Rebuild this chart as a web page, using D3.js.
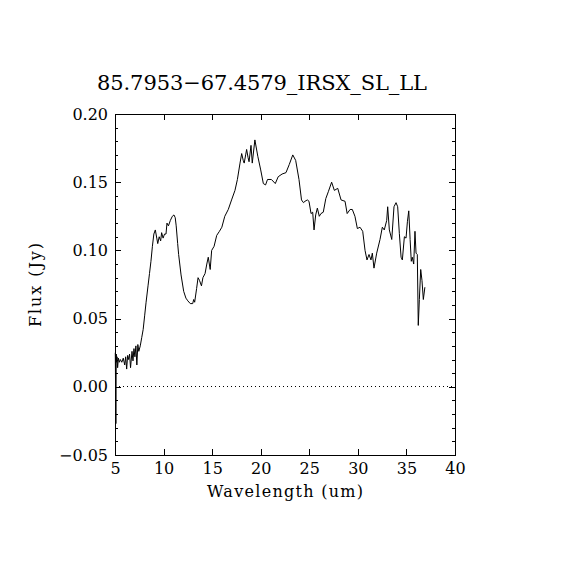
<!DOCTYPE html>
<html lang="en">
<head>
    <meta charset="UTF-8">
    <title>85.7953-67.4579_IRSX_SL_LL</title>
    <script src="https://d3js.org/d3.v7.min.js"></script>
    <style>
        body { margin: 0; background: #fff; }
        svg { display: block; }
        text { font-family: "DejaVu Serif", serif; fill: #000; }
    </style>
</head>
<body>
    <div id="chart"></div>
    <script>
        // spectrum (wavelength in um, flux in Jy)
        var wavelength = [
            5.03, 5.09, 5.13, 5.17, 5.21, 5.27, 5.35, 5.45, 5.55, 5.7,
            5.85, 6.0, 6.1, 6.2, 6.3, 6.4, 6.5, 6.6, 6.75, 6.85,
            6.95, 7.05, 7.15, 7.25, 7.35, 7.45, 7.6, 7.75, 7.9, 8.05,
            8.2, 8.4, 8.55, 8.7, 8.85, 9.0, 9.15, 9.3, 9.4, 9.55,
            9.7, 9.8, 9.95, 10.1, 10.25, 10.35, 10.5, 10.7, 10.9, 11.07,
            11.2, 11.3, 11.45, 11.55, 11.8, 12.07, 12.3, 12.5, 12.75, 13.0,
            13.1, 13.2, 13.4, 13.55, 13.7, 13.9, 14.05, 14.27, 14.45, 14.6,
            14.8, 14.95, 15.2, 15.47, 15.75, 16.0, 16.3, 16.66, 17.0, 17.35,
            17.6, 17.87, 18.04, 18.2, 18.3, 18.45, 18.55, 18.7, 18.8, 19.0,
            19.13, 19.4, 19.7, 20.0, 20.27, 20.5, 20.7, 21.1, 21.5, 21.8,
            22.2, 22.6, 22.94, 23.3, 23.6, 23.94, 24.2, 24.4, 24.56, 24.8,
            24.97, 25.18, 25.35, 25.49, 25.66, 25.83, 26.03, 26.2, 26.44, 26.7,
            26.96, 27.3, 27.58, 27.93, 28.27, 28.68, 28.9, 29.2, 29.43, 29.7,
            29.95, 30.22, 30.5, 30.74, 30.94, 31.15, 31.35, 31.49, 31.66, 31.94,
            32.28, 32.52, 32.72, 32.97, 33.07, 33.24, 33.49, 33.72, 33.93, 34.1,
            34.27, 34.45, 34.58, 34.79, 34.96, 35.1, 35.24, 35.38, 35.5, 35.6,
            35.75, 35.88, 35.99, 36.12, 36.22, 36.33, 36.47, 36.6, 36.74, 36.9
        ];
        var flux = [
            0.025, -0.027, 0.024, 0.018, 0.022, 0.014, 0.021, 0.018, 0.020, 0.018,
            0.021, 0.016, 0.022, 0.013, 0.023, 0.020, 0.024, 0.014, 0.026, 0.019,
            0.028, 0.022, 0.030, 0.016, 0.031, 0.026, 0.030, 0.036, 0.042, 0.052,
            0.062, 0.074, 0.083, 0.092, 0.103, 0.112, 0.115, 0.109, 0.105, 0.110,
            0.107, 0.113, 0.109, 0.112, 0.112, 0.120, 0.118, 0.122, 0.125, 0.126,
            0.124, 0.118, 0.105, 0.097, 0.082, 0.070, 0.065, 0.063, 0.061, 0.061,
            0.064, 0.062, 0.072, 0.080, 0.078, 0.074, 0.080, 0.083, 0.090, 0.095,
            0.086, 0.100, 0.103, 0.111, 0.114, 0.117, 0.125, 0.130, 0.137, 0.144,
            0.152, 0.164, 0.171, 0.166, 0.164, 0.170, 0.174, 0.168, 0.165, 0.177,
            0.164, 0.181, 0.169, 0.159, 0.149, 0.148, 0.152, 0.152, 0.149, 0.154,
            0.156, 0.157, 0.163, 0.170, 0.166, 0.152, 0.137, 0.135, 0.136, 0.137,
            0.136, 0.127, 0.128, 0.115, 0.126, 0.131, 0.125, 0.127, 0.128, 0.138,
            0.143, 0.150, 0.144, 0.1455, 0.137, 0.136, 0.127, 0.130, 0.130, 0.125,
            0.116, 0.117, 0.114, 0.100, 0.093, 0.097, 0.093, 0.098, 0.087, 0.098,
            0.108, 0.117, 0.115, 0.122, 0.132, 0.115, 0.108, 0.132, 0.135, 0.132,
            0.1125, 0.095, 0.093, 0.110, 0.109, 0.121, 0.129, 0.108, 0.092, 0.095,
            0.090, 0.114, 0.098, 0.097, 0.045, 0.064, 0.086, 0.078, 0.064, 0.073
        ];
        var xMajorTicks = [5, 10, 15, 20, 25, 30, 35, 40];
        var yMajorTicks = [-0.05, 0.00, 0.05, 0.10, 0.15, 0.20];
        var yMinorTicks = d3.range(-5, 21).map(function (i) { return i / 100; });

        var title = "85.7953\u221267.4579_IRSX_SL_LL";

        var W = 570, H = 570;
        var mLeft = 115, mRight = 455, mTop = 114, mBottom = 455;

        var svg = d3.select("#chart").append("svg")
            .attr("width", W).attr("height", H);

        var x = d3.scaleLinear().domain([5, 40]).range([mLeft, mRight]);
        var y = d3.scaleLinear().domain([-0.05, 0.20]).range([mBottom, mTop]);

        var fmt = function (d) { return d3.format(".2f")(d).replace("-", "\u2212"); };

        // bottom axis with labels, ticks pointing in
        svg.append("g").attr("transform", "translate(0," + mBottom + ")")
            .call(d3.axisBottom(x).tickValues(xMajorTicks).tickSizeInner(-6).tickSizeOuter(0).tickPadding(8).tickFormat(d3.format("d")));
        svg.append("g").attr("transform", "translate(0," + mTop + ")")
            .call(d3.axisTop(x).tickValues(xMajorTicks).tickSizeInner(-6).tickSizeOuter(0).tickFormat(""));

        svg.append("g").attr("transform", "translate(" + mLeft + ",0)")
            .call(d3.axisLeft(y).tickValues(yMajorTicks).tickSizeInner(-6).tickSizeOuter(0).tickPadding(7).tickFormat(fmt));
        svg.append("g").attr("transform", "translate(" + mLeft + ",0)")
            .call(d3.axisLeft(y).tickValues(yMinorTicks).tickSizeInner(-3).tickSizeOuter(0).tickFormat(""));
        svg.append("g").attr("transform", "translate(" + mRight + ",0)")
            .call(d3.axisRight(y).tickValues(yMajorTicks).tickSizeInner(-6).tickSizeOuter(0).tickFormat(""));
        svg.append("g").attr("transform", "translate(" + mRight + ",0)")
            .call(d3.axisRight(y).tickValues(yMinorTicks).tickSizeInner(-3).tickSizeOuter(0).tickFormat(""));

        svg.selectAll(".domain").remove();
        svg.selectAll(".tick line").attr("stroke", "#000").attr("shape-rendering", "crispEdges");
        svg.selectAll(".tick text").style("font-family", "DejaVu Serif").style("font-size", "16px");

        // frame
        svg.append("rect")
            .attr("x", mLeft).attr("y", mTop)
            .attr("width", mRight - mLeft).attr("height", mBottom - mTop)
            .attr("fill", "none").attr("stroke", "#000").attr("stroke-width", 1)
            .attr("shape-rendering", "crispEdges");

        // zero line
        svg.append("line")
            .attr("x1", x(5)).attr("x2", x(40))
            .attr("y1", y(0)).attr("y2", y(0))
            .attr("stroke", "#000").attr("stroke-width", 1)
            .attr("stroke-dasharray", "1,3")
            .attr("shape-rendering", "crispEdges");

        var pts = wavelength.map(function (w, i) { return [w, flux[i]]; });
        var line = d3.line().x(function (d) { return x(d[0]); }).y(function (d) { return y(d[1]); });
        svg.append("path")
            .datum(pts)
            .attr("d", line)
            .attr("fill", "none")
            .attr("stroke", "#000")
            .attr("stroke-width", 1);

        svg.append("text")
            .attr("x", 262).attr("y", 90)
            .attr("text-anchor", "middle")
            .style("font-size", "21px")
            .attr("textLength", 330)
            .text(title);

        svg.append("text")
            .attr("x", 285).attr("y", 497)
            .attr("text-anchor", "middle")
            .style("font-size", "16px")
            .attr("textLength", 156)
            .text("Wavelength (um)");

        svg.append("text")
            .attr("transform", "translate(41,285) rotate(-90)")
            .attr("text-anchor", "middle")
            .style("font-size", "16px")
            .attr("textLength", 84)
            .text("Flux (Jy)");
    </script>
</body>
</html>
